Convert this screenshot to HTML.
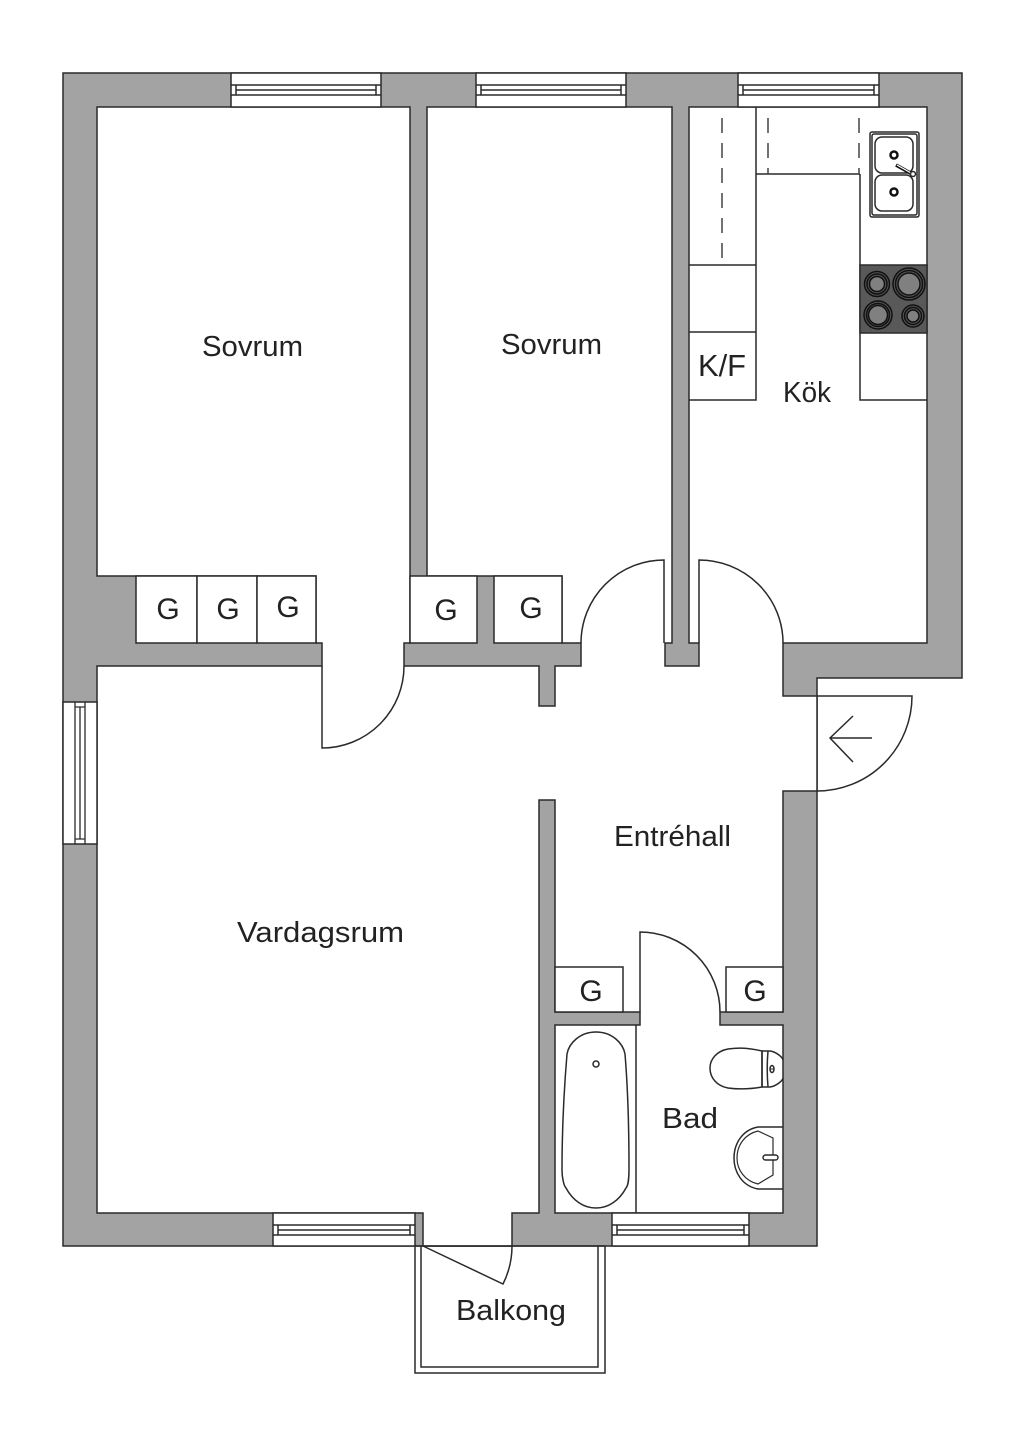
<!DOCTYPE html>
<html><head><meta charset="utf-8"><style>
html,body{margin:0;padding:0;background:#fff}
svg{display:block}
text{font-family:"Liberation Sans",sans-serif;fill:#222;font-size:29px}
.g{font-size:30px;text-anchor:middle}
</style></head><body>
<svg width="1024" height="1448" viewBox="0 0 1024 1448" xmlns="http://www.w3.org/2000/svg">
<rect width="1024" height="1448" fill="#fff"/>
<g stroke="#2a2a2a" stroke-width="1.5" fill="none">
<!-- walls -->
<path d="M63 73H962V678H817V1246H63Z" fill="#a3a3a3"/>
<!-- interior -->
<path d="M97 107H410V643H404V666H539V706H555V666H581V643H562V576H427V107H672V643H665V666H699V643H689V107H927V643H783V696H817V791H783V1012H720V1025H783V1213H555V1025H640V1012H555V800H539V1213H512V1246H423V1213H97V666H322V643H316V576H97Z" fill="#fff"/>
<!-- closets -->
<g fill="#fff">
<rect x="136" y="576" width="61" height="67"/><rect x="197" y="576" width="60" height="67"/><rect x="257" y="576" width="59" height="67"/>
<rect x="410" y="576" width="67" height="67"/><rect x="494" y="576" width="68" height="67"/>
<rect x="555" y="967" width="68" height="45"/><rect x="726" y="967" width="57" height="45"/>
</g>
<!-- windows -->
<g fill="#fff">
<rect x="231" y="73" width="150" height="34"/><rect x="476" y="73" width="150" height="34"/><rect x="738" y="73" width="141" height="34"/>
<rect x="63" y="702" width="34" height="142"/>
<rect x="273" y="1213" width="142" height="33"/><rect x="612" y="1213" width="137" height="33"/>
</g>
<path d="M231 85H381M231 95H381M236 85V95M376 85V95M236 90H376"/>
<path d="M476 85H626M476 95H626M481 85V95M621 85V95M481 90H621"/>
<path d="M738 85H879M738 95H879M743 85V95M874 85V95M743 90H874"/>
<path d="M75 702V844M85 702V844M75 707H85M75 839H85M80 707V839" stroke-width="1.3"/>
<path d="M273 1225H415M273 1235H415M278 1225V1235M410 1225V1235M278 1230H410"/>
<path d="M612 1225H749M612 1235H749M617 1225V1235M744 1225V1235M617 1230H744"/>
<!-- doors -->
<path d="M322 666V748A82 82 0 0 0 404 666"/>
<path d="M581 643A83 83 0 0 1 664 560V643"/>
<path d="M699 643V560A84 83 0 0 1 783 643"/>
<path d="M817 696H912A95 95 0 0 1 817 791"/>
<path d="M830 738H872M853 716L830 738L853 762"/>
<path d="M640 1012V932A80 80 0 0 1 720 1012"/>
<path d="M423 1246L503 1284Q512 1266 512 1246"/>
<!-- balcony -->
<path d="M415 1246V1373H605V1246M421 1246V1367H598V1246M415 1246H605"/>
<!-- kitchen -->
<path d="M756 107V400H689M689 265H756M689 332H756M756 174H860M860 174V400H927"/>
<path d="M722 118V265M768 118V174M859 118V174" stroke-dasharray="15 10" stroke="#444"/>
<rect x="860" y="265" width="67" height="68" fill="#595959"/>
<g fill="#555" stroke="#111">
<circle cx="877" cy="284" r="12.5"/><circle cx="877" cy="284" r="10"/><circle cx="877" cy="284" r="7.5" fill="#808080"/>
<circle cx="909" cy="284" r="16"/><circle cx="909" cy="284" r="13.5"/><circle cx="909" cy="284" r="11" fill="#808080"/>
<circle cx="878" cy="315" r="14"/><circle cx="878" cy="315" r="11.5"/><circle cx="878" cy="315" r="9.5" fill="#808080"/>
<circle cx="913" cy="316" r="11"/><circle cx="913" cy="316" r="8.5"/><circle cx="913" cy="316" r="6" fill="#808080"/>
</g>
<rect x="870" y="132" width="49" height="85" rx="2" fill="#fff"/>
<rect x="872" y="134" width="45" height="81" rx="2"/>
<rect x="875" y="137" width="38" height="36" rx="7"/>
<rect x="875" y="175" width="38" height="36" rx="7"/>
<circle cx="894" cy="155" r="3.5" stroke-width="2.5" stroke="#111"/><circle cx="894" cy="192" r="3.5" stroke-width="2.5" stroke="#111"/>
<path d="M896 165L912 174" stroke-width="3.5" stroke="#111"/><path d="M897 165L911 173" stroke="#fff" stroke-width="1.2"/>
<circle cx="913" cy="174" r="2.5" fill="#fff"/>
<!-- bath -->
<path d="M636 1025V1213"/>
<path d="M596 1032C612 1032 623 1043 625 1054C628 1090 629 1130 629 1170C629 1178 628 1186 626 1188C619 1201 608 1208 596 1208C584 1208 573 1201 566 1188C564 1186 562 1178 562 1170C562 1130 564 1090 567 1054C569 1043 580 1032 596 1032Z"/>
<circle cx="596" cy="1064" r="3"/>
<!-- toilet -->
<path d="M762 1051C745 1047 735 1048 728 1049C717 1051 710 1059 710 1068C710 1078 717 1086 728 1088C735 1089 745 1090 762 1087Z"/>
<path d="M762 1051V1087M768 1051C767 1062 767 1075 768 1087M762 1051H770C777 1052 783 1058 783 1060M762 1087H770C777 1086 783 1080 783 1078"/>
<ellipse cx="772" cy="1069" rx="2" ry="3.5"/><path d="M770 1069H774" stroke-width="1"/>
<!-- basin -->
<path d="M783 1127H758C742 1130 734 1144 734 1158C734 1172 742 1186 758 1189H783"/>
<path d="M758 1131L773 1138V1175L758 1184C745 1181 737 1170 737 1158C737 1145 745 1134 758 1131Z" stroke-width="1.2"/>
<rect x="763" y="1155" width="15" height="5" rx="2.5" fill="#fff"/>
</g>
<text x="202" y="356" textLength="101" lengthAdjust="spacingAndGlyphs">Sovrum</text>
<text x="501" y="354" textLength="101" lengthAdjust="spacingAndGlyphs">Sovrum</text>
<text x="783" y="402" textLength="48" lengthAdjust="spacingAndGlyphs">Kök</text>
<text x="698" y="376" textLength="48" lengthAdjust="spacingAndGlyphs" style="font-size:31px">K/F</text>
<text x="614" y="846" textLength="117" lengthAdjust="spacingAndGlyphs">Entréhall</text>
<text x="237" y="942" textLength="167" lengthAdjust="spacingAndGlyphs">Vardagsrum</text>
<text x="662" y="1128" textLength="56" lengthAdjust="spacingAndGlyphs">Bad</text>
<text x="456" y="1320" textLength="110" lengthAdjust="spacingAndGlyphs">Balkong</text>
<text class="g" x="168" y="619">G</text>
<text class="g" x="228" y="619">G</text>
<text class="g" x="288" y="617">G</text>
<text class="g" x="446" y="620">G</text>
<text class="g" x="531" y="618">G</text>
<text class="g" x="591" y="1001">G</text>
<text class="g" x="755" y="1001">G</text>
</svg>
</body></html>
